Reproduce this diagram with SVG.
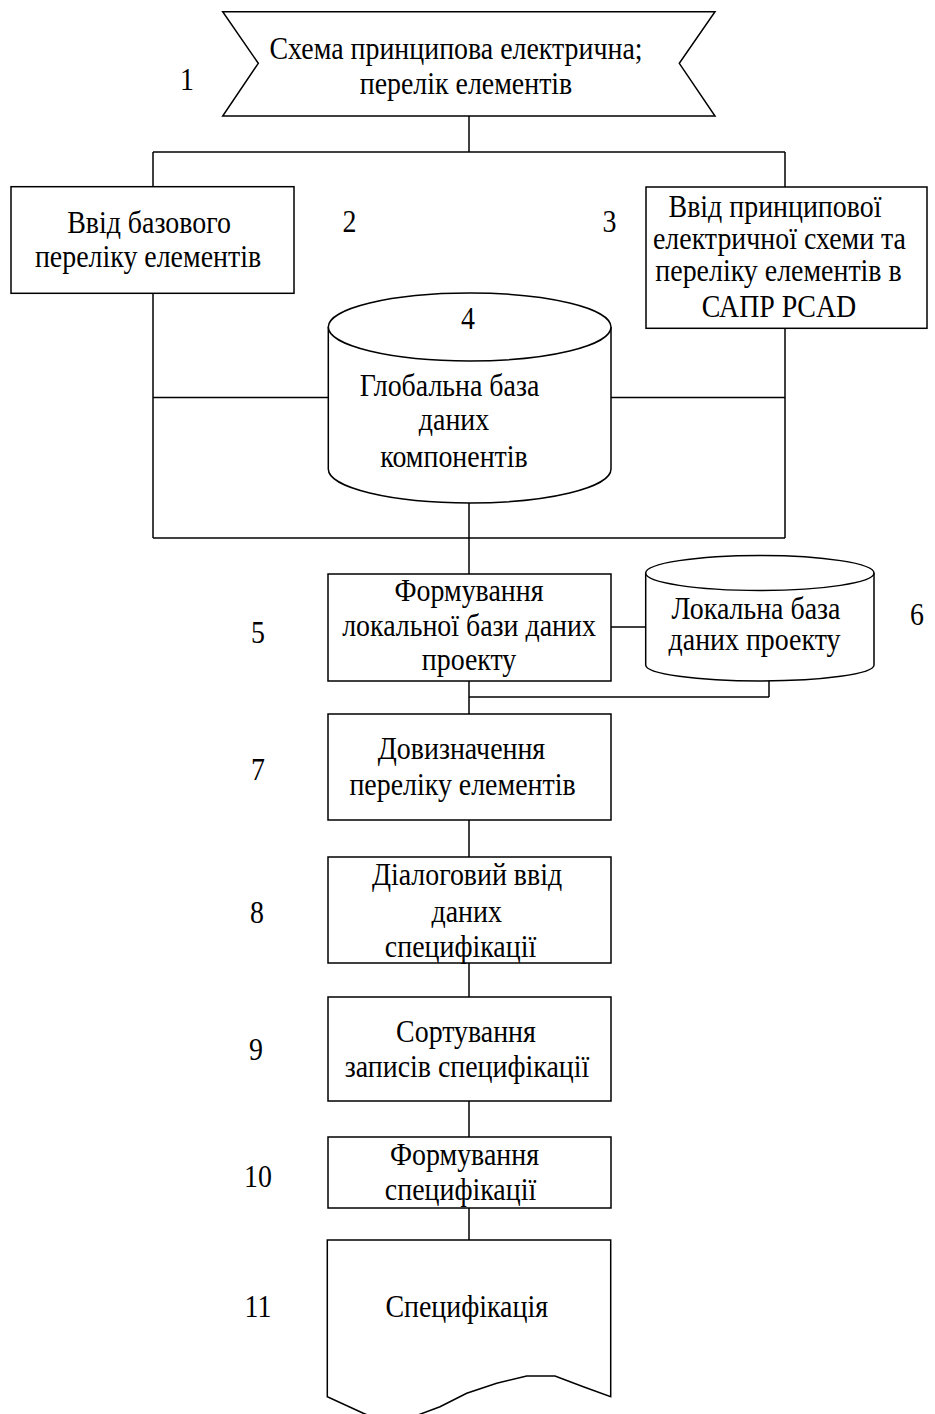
<svg xmlns="http://www.w3.org/2000/svg" width="935" height="1414" viewBox="0 0 935 1414">
<style>
.s{fill:#fff;stroke:#000;stroke-width:1.5}
.c line{stroke:#000;stroke-width:1.5}
text{font-family:"Liberation Serif","Times New Roman",serif;font-size:31px;fill:#000;text-anchor:middle}
</style>
<rect width="935" height="1414" fill="#fff"/>
<g class="c" id="connectors">
<line x1="469" y1="116" x2="469" y2="152"/>
<line x1="153" y1="152" x2="785" y2="152"/>
<line x1="153" y1="152" x2="153" y2="187"/>
<line x1="785" y1="152" x2="785" y2="187"/>
<line x1="153" y1="293" x2="153" y2="538"/>
<line x1="785" y1="328" x2="785" y2="538"/>
<line x1="153" y1="538" x2="785" y2="538"/>
<line x1="153" y1="397.5" x2="328" y2="397.5"/>
<line x1="611" y1="397.5" x2="785" y2="397.5"/>
<line x1="469" y1="503" x2="469" y2="574"/>
<line x1="611" y1="627" x2="646" y2="627"/>
<line x1="469" y1="681" x2="469" y2="714"/>
<line x1="469" y1="697" x2="769" y2="697"/>
<line x1="769" y1="697" x2="769" y2="681"/>
<line x1="469" y1="820" x2="469" y2="857"/>
<line x1="469" y1="963" x2="469" y2="997"/>
<line x1="469" y1="1101" x2="469" y2="1137"/>
<line x1="469" y1="1208" x2="469" y2="1240"/>
</g>
<g id="n1">
<path class="s" d="M222.7,11.7 L715,11.7 L679.3,63.3 L715,116 L222.7,116 L258.3,63.3 Z"/>
<text transform="translate(456 59) scale(0.9 1)">Схема принципова електрична;</text>
<text transform="translate(466 94) scale(0.9 1)">перелік елементів</text>
<text transform="translate(187 90) scale(0.9 1)">1</text>
</g>
<g id="n2">
<rect class="s" x="11" y="186.7" width="283" height="106.6"/>
<text transform="translate(149 233) scale(0.9 1)">Ввід базового</text>
<text transform="translate(148 267) scale(0.9 1)">переліку елементів</text>
<text transform="translate(349.5 232) scale(0.9 1)">2</text>
</g>
<g id="n3">
<rect class="s" x="646" y="187" width="281" height="141.3"/>
<text transform="translate(775 217) scale(0.9 1)">Ввід принципової</text>
<text transform="translate(779.5 249) scale(0.9 1)">електричної схеми та</text>
<text transform="translate(778.5 281) scale(0.9 1)">переліку елементів в</text>
<text transform="translate(779 317) scale(0.9 1)">САПР PCAD</text>
<text transform="translate(609.5 232) scale(0.9 1)">3</text>
</g>
<g id="n4">
<path class="s" d="M328.3,327 L328.3,469 A141.35,34 0 0 0 611,469 L611,327"/>
<ellipse class="s" cx="469.65" cy="327" rx="141.35" ry="34"/>
<text transform="translate(468 329) scale(0.9 1)">4</text>
<text transform="translate(449.5 396) scale(0.9 1)">Глобальна база</text>
<text transform="translate(454 430) scale(0.9 1)">даних</text>
<text transform="translate(454 467) scale(0.9 1)">компонентів</text>
</g>
<g id="n5">
<rect class="s" x="328" y="574" width="283" height="107"/>
<text transform="translate(469 601) scale(0.9 1)">Формування</text>
<text transform="translate(469 636) scale(0.9 1)">локальної бази даних</text>
<text transform="translate(469 670) scale(0.9 1)">проекту</text>
<text transform="translate(258 643) scale(0.9 1)">5</text>
</g>
<g id="n6">
<path class="s" d="M645.7,573 L645.7,665 A114.15,16 0 0 0 874,665 L874,573"/>
<ellipse class="s" cx="759.85" cy="573" rx="114.15" ry="17.5"/>
<text transform="translate(756 619) scale(0.9 1)">Локальна база</text>
<text transform="translate(754.5 650) scale(0.9 1)">даних проекту</text>
<text transform="translate(917 625) scale(0.9 1)">6</text>
</g>
<g id="n7">
<rect class="s" x="328" y="714" width="283" height="106"/>
<text transform="translate(461.5 759) scale(0.9 1)">Довизначення</text>
<text transform="translate(462.5 795) scale(0.9 1)">переліку елементів</text>
<text transform="translate(258 780) scale(0.9 1)">7</text>
</g>
<g id="n8">
<rect class="s" x="328" y="857" width="283" height="106"/>
<text transform="translate(467 885) scale(0.9 1)">Діалоговий ввід</text>
<text transform="translate(466.7 921.7) scale(0.9 1)">даних</text>
<text transform="translate(460.5 957) scale(0.9 1)">специфікації</text>
<text transform="translate(257 923) scale(0.9 1)">8</text>
</g>
<g id="n9">
<rect class="s" x="328" y="997" width="283" height="104"/>
<text transform="translate(466 1042) scale(0.9 1)">Сортування</text>
<text transform="translate(467 1077) scale(0.9 1)">записів специфікації</text>
<text transform="translate(256 1060) scale(0.9 1)">9</text>
</g>
<g id="n10">
<rect class="s" x="328" y="1137" width="283" height="71"/>
<text transform="translate(464.5 1165) scale(0.9 1)">Формування</text>
<text transform="translate(460.5 1200) scale(0.9 1)">специфікації</text>
<text transform="translate(258 1187) scale(0.9 1)">10</text>
</g>
<g id="n11">
<path class="s" d="M327.3,1240 L610.7,1240 L610.7,1396.7 L583.3,1386.7 L555,1376 L526.7,1376 L496.7,1383.3 L466.7,1393.3 L440,1406.7 L410,1418 L380,1420 L363.3,1413.3 L327.3,1396.7 Z"/>
<text transform="translate(466.7 1317) scale(0.9 1)">Специфікація</text>
<text transform="translate(258 1317) scale(0.9 1)">11</text>
</g>
</svg>
